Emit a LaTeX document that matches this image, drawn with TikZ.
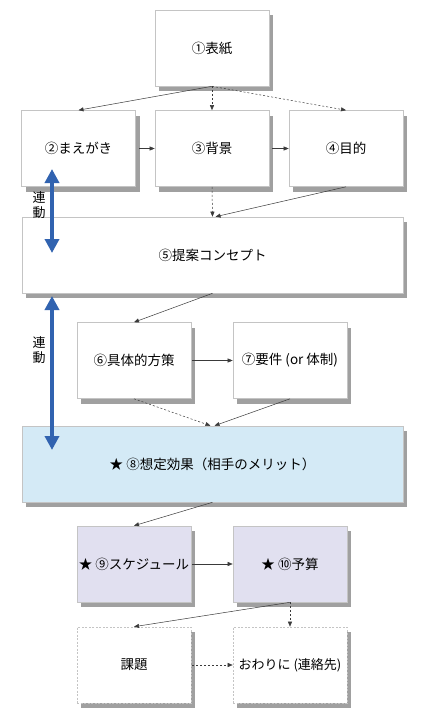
\documentclass[tikz,border=0pt]{standalone}
\usepackage{fontspec}
\setmainfont{Noto Sans CJK JP}
\usetikzlibrary{arrows.meta,shadows}
\definecolor{shadowgray}{HTML}{A0A0A0}
\definecolor{boxline}{HTML}{C4C4C4}
\definecolor{linkgray}{HTML}{3A3A3A}
\definecolor{effblue}{HTML}{D4EAF6}
\definecolor{schedlav}{HTML}{E1E0F0}
\definecolor{linkblue}{HTML}{3163B0}
\tikzset{
  basebox/.style={draw=boxline, line width=0.6pt, fill=white, minimum height=76pt,
    inner sep=0pt, font=\fontsize{13.5}{15}\selectfont,
    drop shadow={shadow xshift=4pt, shadow yshift=-5pt, fill=shadowgray, opacity=1, draw=none}},
  sbox/.style={basebox, minimum width=114pt},
  wbox/.style={basebox, minimum width=381pt},
  dbox/.style={sbox, dash pattern=on 2pt off 1.5pt},
  link/.style={draw=linkgray, line width=0.5pt, -{Triangle[length=5pt,width=4pt]}},
  dlink/.style={link, dash pattern=on 2pt off 2pt},
  sync/.style={draw=linkblue, line width=4pt, {Triangle[length=14pt,width=14pt]}-{Triangle[length=14pt,width=14pt]}},
  synclabel/.style={font=\fontsize{13}{14.5}\selectfont, align=center, inner sep=0pt}
}
\begin{document}
\begin{tikzpicture}[x=1pt,y=-1pt]
\fill[white] (0,0) rectangle (430,718);
\useasboundingbox (0,0) rectangle (430,718);

\node[sbox] (b1) at (212,48) {①表紙};
\node[sbox] (b2) at (78.5,148.5) {②まえがき};
\node[sbox] (b3) at (212,148.5) {③背景};
\node[sbox] (b4) at (346,148.5) {④目的};
\node[wbox] (b5) at (212.5,255) {⑤提案コンセプト};
\node[sbox] (b6) at (134,360.5) {⑥具体的方策};
\node[sbox] (b7) at (290,360.5) {⑦要件 (or 体制)};
\node[wbox, fill=effblue] (b8) at (212.5,464) {★ ⑧想定効果（相手のメリット）};
\node[sbox, fill=schedlav] (b9) at (134,564) {★ ⑨スケジュール};
\node[sbox, fill=schedlav] (b10) at (290,564) {★ ⑩予算};
\node[dbox] (b11) at (134,665) {課題};
\node[dbox] (b12) at (290,665) {\fontsize{13}{15}\selectfont おわりに (連絡先)};

% connectors
\draw[link] (b1.south) -- (b2.north);
\draw[dlink] (b1.south) -- (b3.north);
\draw[dlink] (b1.south) -- (b4.north);
\draw[link] ([xshift=3pt]b2.east) -- (b3.west);
\draw[link] ([xshift=3pt]b3.east) -- (b4.west);
\draw[dlink] (b3.south) -- (b5.north);
\draw[link] (b4.south) -- ([xshift=3pt]b5.north);
\draw[link] (b5.south) -- (b6.north);
\draw[link] ([xshift=1pt]b6.east) -- (b7.west);
\draw[dlink] (b6.south) -- ([xshift=-2pt]b8.north);
\draw[link] (b7.south) -- ([xshift=2pt]b8.north);
\draw[link] (b8.south) -- (b9.north);
\draw[link] ([xshift=1pt]b9.east) -- (b10.west);
\draw[link] (b10.south) -- (b11.north);
\draw[dlink] (b10.south) -- (b12.north);
\draw[dlink] ([xshift=1pt]b11.east) -- (b12.west);

% sync arrows
\coordinate (s1a) at (52,169);
\coordinate (s1b) at (52,253);
\coordinate (s2a) at (52,296);
\coordinate (s2b) at (52,450);
\draw[sync] (s1a) -- (s1b);
\draw[sync] (s2a) -- (s2b);
\node[synclabel] (l1) at (39,205) {連\\動};
\node[synclabel] (l2) at (39,350) {連\\動};
\end{tikzpicture}
\end{document}
